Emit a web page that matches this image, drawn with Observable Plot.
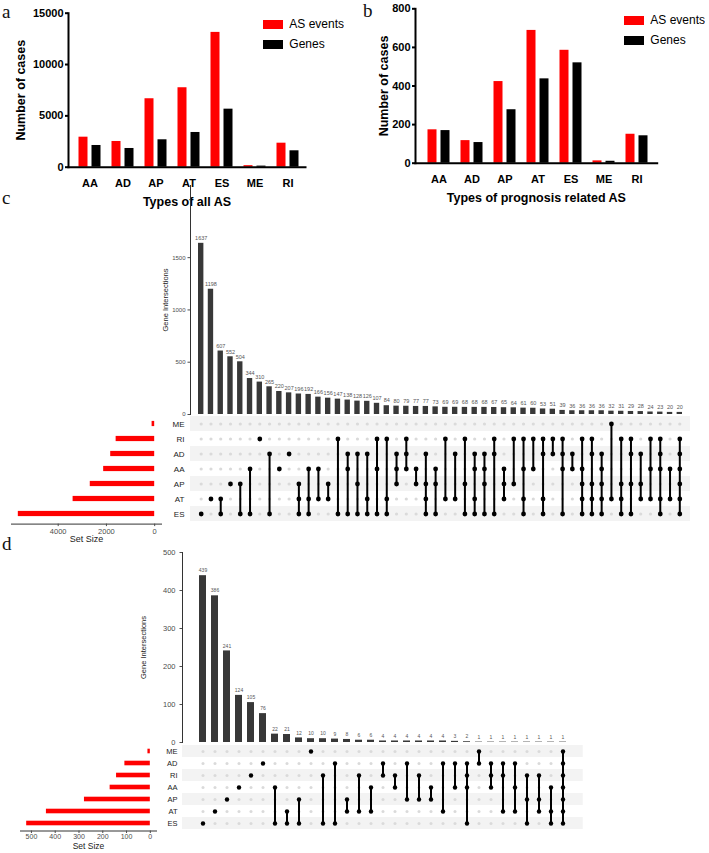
<!DOCTYPE html>
<html><head><meta charset="utf-8">
<script src="https://cdn.jsdelivr.net/npm/d3@7"></script>
<script src="https://cdn.jsdelivr.net/npm/@observablehq/plot@0.6"></script>
<style>
body{margin:0;background:#fff;}
#root{position:relative;width:709px;height:853px;overflow:hidden;font-family:"Liberation Sans",Arial,sans-serif;}
.letter{position:absolute;font-family:"Liberation Serif","DejaVu Serif",serif;font-size:19px;line-height:1;color:#111;}
</style></head><body><div id="root"></div>
<script>
// ---------- data ----------
const types = ["AA","AD","AP","AT","ES","ME","RI"];
const seriesNames = ["AS events","Genes"];
const seriesColors = ["#ff0000","#000000"];
const allEvents = [2924, 2505, 6667, 7739, 13130, 150, 2339];
const allGenes = [2115, 1823, 2670, 3382, 5653, 107, 1598];
const progEvents = [173, 117, 423, 688, 585, 12, 150];
const progGenes = [169, 107, 277, 437, 520, 10, 142];
const aTicks = [0, 5000, 10000, 15000];
const bTicks = [0, 200, 400, 600, 800];

const cRows = ["ME","RI","AD","AA","AP","AT","ES"];
const cSets = ["ES","AT","AT&ES","AP","AP&ES","AA&ES","RI","AD&ES","AA","AD",
  "AP&AT&ES","AA&AT&ES","AA&AT","AP&AT","RI&ES","AD&AA&ES","AD&AP&ES","AD&AT&ES","RI&AA&ES","RI&AT&ES",
  "AD&AA&AP","RI&AD&AA","AA&AP","AD&AP&AT&ES","AA&AP&ES","RI&AT","AD&AT","RI&AP&ES","AD&AA&AT&ES","AD&AA&AP&ES",
  "RI&AD&ES","AA&AP&AT","RI&AP","RI&AA&AT&ES","RI&AA","RI&AD&AT&ES","RI&AD","RI&AD&AA&ES","AD&AA","RI&AA&AP&AT&ES",
  "RI&AD&AP&AT&ES","AD&AA&AP&AT&ES","ME&AT","RI&AP&AT&ES","RI&AD&AP&ES","AD&AP&AT","RI&AA&AT","RI&AD&AA&AT&ES","AA&AT","RI&AD&AA&AP&AT&ES"];
const cCounts = [1637,1198,607,552,504,344,310,265,220,207,
  196,192,166,156,147,138,128,126,107,84,
  80,79,77,77,73,69,69,68,68,68,
  67,65,64,61,60,53,51,39,36,36,
  36,36,32,31,29,28,24,23,20,20];
const cBarTicks = [0, 500, 1000, 1500];
const cSizeTicks = [0, 2000, 4000];

const dRows = ["ME","AD","RI","AA","AP","AT","ES"];
const dSets = ["ES","AT","AP","AA","RI","AD","AA&ES","AT&ES","AP&ES","ME",
  "RI&ES","AD&ES","AP&AT","RI&AT","AA&AT","AD&RI","RI&AA","AD&AP","RI&AP","AA&AP",
  "AD&AT","AD&AA","AD&RI&AA&ES","ME&AD","AD&RI&AA","AD&RI&AT","AD&AA&AT","RI&AP&ES","RI&AP&AT","AA&AT&ES",
  "ME&AD&RI&AA&AP&AT&ES"];
const dCounts = [439,386,241,124,105,76,22,21,12,10,
  10,9,8,6,6,4,4,4,4,4,
  4,3,2,1,1,1,1,1,1,1,1];
const dBarTicks = [0, 100, 200, 300, 400, 500];
const dSizeTicks = [0, 100, 200, 300, 400, 500];

// ---------- helpers ----------
const FONT = '"Liberation Sans", Arial, Helvetica, sans-serif';
const root = document.getElementById("root");
function place(el, left, top) {
  el.style.position = "absolute";
  el.style.left = left + "px";
  el.style.top = top + "px";
  root.appendChild(el);
  return el;
}
function grouped(events, genes) {
  return types.flatMap((t, i) => [
    {type: t, series: seriesNames[0], value: events[i]},
    {type: t, series: seriesNames[1], value: genes[i]}
  ]);
}
function groupedChart(o) {
  const data = grouped(o.events, o.genes);
  return Plot.plot({
    width: o.width, height: o.height,
    marginLeft: o.ml, marginRight: o.mr, marginTop: o.mt, marginBottom: o.mb,
    style: {background: "transparent", fontFamily: FONT, fontSize: "11px", fontWeight: "bold", color: "#000", overflow: "visible"},
    x: {domain: types, paddingInner: 0.716, paddingOuter: 0.42, align: 0.56},
    y: {domain: [0, o.yMax]},
    color: {domain: seriesNames, range: seriesColors},
    marks: [
      Plot.barY(data.filter(d => d.series === seriesNames[0]), {x: "type", y: "value", fill: "series", dx: -6.5}),
      Plot.barY(data.filter(d => d.series === seriesNames[1]), {x: "type", y: "value", fill: "series", dx: 6.5}),
      Plot.frame({anchor: "left", strokeWidth: 2}),
      Plot.frame({anchor: "bottom", strokeWidth: 2}),
      Plot.axisY({ticks: o.ticks, tickFormat: "d", tickSize: 3, tickPadding: 2, strokeWidth: 2, label: null}),
      Plot.axisX({tickSize: 0, tickPadding: 12, label: null}),
      Plot.text([o.xTitle], {text: d => d, frameAnchor: "bottom", textAnchor: "middle", dy: o.xTitleDy, fontSize: 12.5}),
      Plot.text(["Number of cases"], {text: d => d, frameAnchor: "left", textAnchor: "middle", rotate: -90, dx: o.yTitleDx, fontSize: 12.5})
    ]
  });
}
function legendEl() {
  return Plot.legend({
    color: {domain: seriesNames, range: seriesColors},
    legend: "swatches", columns: 1, swatchWidth: 20, swatchHeight: 9,
    style: {fontFamily: FONT, fontSize: "12px", lineHeight: "19px", fontWeight: "normal", color: "#000", margin: "0", width: "110px", background: "transparent"}
  });
}
function upsetData(rows, sets, counts) {
  const cols = counts.map((count, i) => ({id: i, count, members: sets[i].split("&")}));
  const members = cols.flatMap(c => c.members.map(row => ({id: c.id, row})));
  const grid = cols.flatMap(c => rows.map(row => ({id: c.id, row})));
  return {cols, members, grid, ids: cols.map(c => c.id)};
}
function barsChart(o) {
  return Plot.plot({
    width: o.width, height: o.height,
    marginLeft: o.ml, marginRight: o.mr, marginTop: o.mt, marginBottom: o.mb,
    style: {background: "transparent", fontFamily: FONT, overflow: "visible"},
    x: {type: "band", domain: o.u.ids, paddingInner: o.pi, paddingOuter: o.po, axis: null},
    y: {domain: [0, o.yMax]},
    marks: [
      Plot.barY(o.u.cols, {x: "id", y: "count", fill: "#383838"}),
      Plot.text(o.u.cols, {x: "id", y: "count", text: d => String(d.count), dy: -5, fontSize: o.valueSize, fill: "#555"}),
      Plot.frame({anchor: "left", stroke: "#333"}),
      Plot.axisY({ticks: o.ticks, tickFormat: "d", tickSize: 2.5, tickPadding: o.tp, fontSize: o.tickSize, color: "#4d4d4d", label: null}),
      Plot.text(["Gene Intersections"], {text: d => d, frameAnchor: "left", textAnchor: "middle", rotate: -90, dx: o.labelDx, fontSize: o.labelSize, fill: "#222"})
    ]
  });
}
function matrixChart(o) {
  return Plot.plot({
    width: o.width, height: o.height,
    marginLeft: o.ml, marginRight: o.mr, marginTop: o.mt, marginBottom: o.mb,
    style: {background: "transparent", fontFamily: FONT, overflow: "visible"},
    x: {type: "band", domain: o.u.ids, paddingInner: o.pi, paddingOuter: o.po, axis: null},
    y: {domain: o.rows, padding: 0},
    marks: [
      Plot.cell(o.rows.filter((r, i) => i % 2 === 0), {y: d => d, fill: "#f3f3f3"}),
      Plot.dot(o.u.grid, {x: "id", y: "row", r: o.r0, fill: "#dadada"}),
      Plot.line(o.u.members, {x: "id", y: "row", z: "id", stroke: "#000", strokeWidth: 2}),
      Plot.dot(o.u.members, {x: "id", y: "row", r: o.r1, fill: "#000"}),
      Plot.axisY({tickSize: 0, tickPadding: o.tp, fontSize: o.fs, color: "#222", label: null})
    ]
  });
}
function sizeChart(o) {
  const sizes = o.rows.map(row => ({row, size: o.genes[types.indexOf(row)]}));
  const maxV = d3.max(sizes, d => d.size);
  return Plot.plot({
    width: o.width, height: o.height,
    marginLeft: o.ml, marginRight: o.mr, marginTop: o.mt, marginBottom: o.mb,
    style: {background: "transparent", fontFamily: FONT, overflow: "visible"},
    x: {domain: [-0.05 * maxV, 1.05 * maxV], reverse: true},
    y: {domain: o.rows, padding: 0, axis: null},
    marks: [
      Plot.barX(sizes, {x: "size", y: "row", fill: "#ff0000", insetTop: o.inset, insetBottom: o.inset}),
      Plot.frame({anchor: "bottom", stroke: "#333"}),
      Plot.axisX({ticks: o.ticks, tickFormat: "d", tickSize: 2.5, tickPadding: o.tp, fontSize: o.fs, color: "#4d4d4d", label: null}),
      Plot.text(["Set Size"], {text: d => d, frameAnchor: "bottom", textAnchor: "middle", dy: o.titleDy, fontSize: o.titleSize, fill: "#222"})
    ]
  });
}

// ---------- panel a ----------
place(groupedChart({events: allEvents, genes: allGenes, yMax: 15000, ticks: aTicks,
  width: 355, height: 215, ml: 68, mr: 50, mt: 12.7, mb: 48.3,
  xTitle: "Types of all AS", xTitleDy: 38.5, yTitleDx: -48}), 0, 0);
place(legendEl(), 263.3, 14.5);

// ---------- panel b ----------
place(groupedChart({events: progEvents, genes: progGenes, yMax: 800, ticks: bTicks,
  width: 354, height: 215, ml: 60, mr: 52.3, mt: 8.3, mb: 52.3,
  xTitle: "Types of prognosis related AS", xTitleDy: 39, yTitleDx: -31.7}), 355, 0);
place(legendEl(), 624.3, 10.5);

// ---------- panel c ----------
const uc = upsetData(cRows, cSets, cCounts);
place(matrixChart({u: uc, rows: cRows, width: 569, height: 125, ml: 50, mr: 19, mt: 7.8, mb: 6.4,
  pi: 0.45, po: 0.82, r0: 1.6, r1: 2.4, tp: 6, fs: 8}), 140, 405);
place(barsChart({u: uc, width: 569, height: 236, ml: 50, mr: 19, mt: 5, mb: 2,
  pi: 0.45, po: 0.82, yMax: 2190, ticks: cBarTicks, tp: 2.5, tickSize: 6, valueSize: 5.5,
  labelDx: -25, labelSize: 7.5}), 140, 180);
place(sizeChart({rows: cRows, genes: allGenes, width: 190, height: 148, ml: 11, mr: 29, mt: 7.8, mb: 29.4,
  inset: 4.9, ticks: cSizeTicks, fs: 7.5, tp: 2, titleDy: 18, titleSize: 9}), 0, 405);

// ---------- panel d ----------
const ud = upsetData(dRows, dSets, dCounts);
place(matrixChart({u: ud, rows: dRows, width: 609, height: 95, ml: 82, mr: 126.3, mt: 3.8, mb: 4.5,
  pi: 0.42, po: 0.5, r0: 1.5, r1: 2.2, tp: 5, fs: 7.5}), 100, 740);
place(barsChart({u: ud, width: 609, height: 199, ml: 82, mr: 126.3, mt: 7, mb: 2,
  pi: 0.42, po: 0.5, yMax: 500, ticks: dBarTicks, tp: 4.5, tickSize: 7.5, valueSize: 5,
  labelDx: -39, labelSize: 7.5}), 100, 545);
place(sizeChart({rows: dRows, genes: progGenes, width: 182, height: 113, ml: 20, mr: 26, mt: 3.8, mb: 22.5,
  inset: 3.7, ticks: dSizeTicks, fs: 7, tp: 1, titleDy: 17.6, titleSize: 8.5}), 0, 740);

// ---------- panel letters ----------
[["a", 2, 2], ["b", 363, 1], ["c", 2, 188], ["d", 2, 534]].forEach(([t, x, y]) => {
  const s = document.createElement("div");
  s.className = "letter";
  s.textContent = t;
  s.style.left = x + "px";
  s.style.top = y + "px";
  root.appendChild(s);
});
</script></body></html>
